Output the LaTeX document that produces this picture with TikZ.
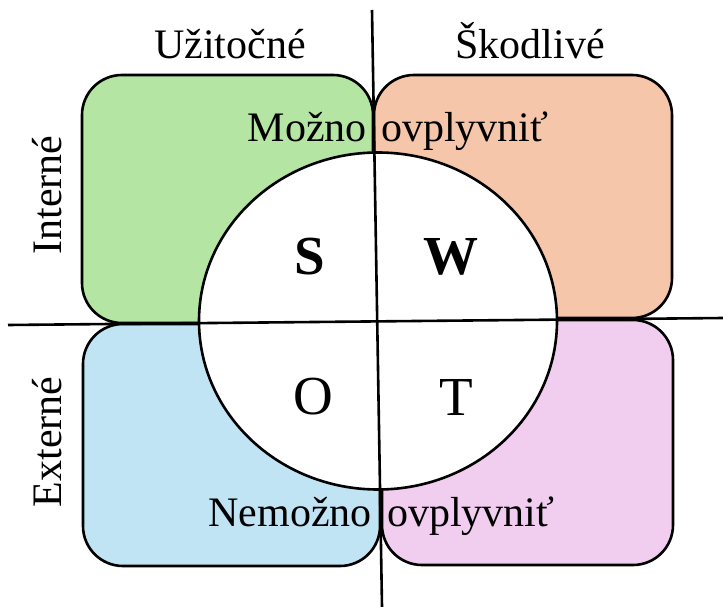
\documentclass[tikz,border=0pt]{standalone}
\usepackage{fontspec}
\setmainfont{Liberation Serif}
\usetikzlibrary{shapes.geometric}
\definecolor{cgreen}{HTML}{B4E5A2}
\definecolor{corange}{HTML}{F6C6AB}
\definecolor{cblue}{HTML}{C1E4F5}
\definecolor{cpink}{HTML}{F1CEEF}
\tikzset{
  quad/.style={draw=black, line width=2.6pt, rounded corners=40pt, inner sep=0pt},
  axis/.style={draw=black, line width=2.6pt},
  lbl/.style={inner sep=0pt, font=\fontsize{42}{50}\selectfont},
  letter/.style={inner sep=0pt, font=\fontsize{55}{60}\selectfont}
}
\begin{document}
\begin{tikzpicture}[x=1pt,y=-1pt]
\useasboundingbox (0,0) rectangle (723,607);
% quadrant boxes
\draw[quad, fill=cgreen] (82,75) rectangle (373,323);
\draw[quad, fill=corange] (374,75) rectangle (672,318);
\draw[quad, fill=cblue] (83,324) rectangle (380,566);
\draw[quad, fill=cpink] (382,320) rectangle (673,565);
% central ellipse
\node[ellipse, draw=black, line width=2.6pt, fill=white, minimum width=358pt, minimum height=337pt, inner sep=0pt] (c) at (378,321) {};
% axes
\coordinate (vt) at (372,10);
\coordinate (vb) at (382,607);
\coordinate (hl) at (8,325);
\coordinate (hr) at (723,318);
\draw[axis] (vt) -- (vb);
\draw[axis] (hl) -- (hr);
% letters
\node[letter, font=\fontsize{55}{60}\selectfont\bfseries] (s) at (310,257) {S};
\node[letter, font=\fontsize{55}{60}\selectfont\bfseries] (w) at (451,257) {W};
\node[letter] (o) at (313,397) {O};
\node[letter] (t) at (456,397) {T};
% labels
\node[lbl, anchor=base] (uz) at (230,59) {Užitočné};
\node[lbl, anchor=base] (sk) at (530,59) {Škodlivé};
\node[lbl, rotate=90] (in) at (47,195) {Interné};
\node[lbl, rotate=90] (ex) at (47,442) {Externé};
\node[lbl, anchor=base east] (mo) at (367,142) {Možno};
\node[lbl, anchor=base west] (ov1) at (381,142) {ovplyvniť};
\node[lbl, anchor=base east] (ne) at (372,526) {Nemožno};
\node[lbl, anchor=base west] (ov2) at (387,526) {ovplyvniť};
\end{tikzpicture}
\end{document}
